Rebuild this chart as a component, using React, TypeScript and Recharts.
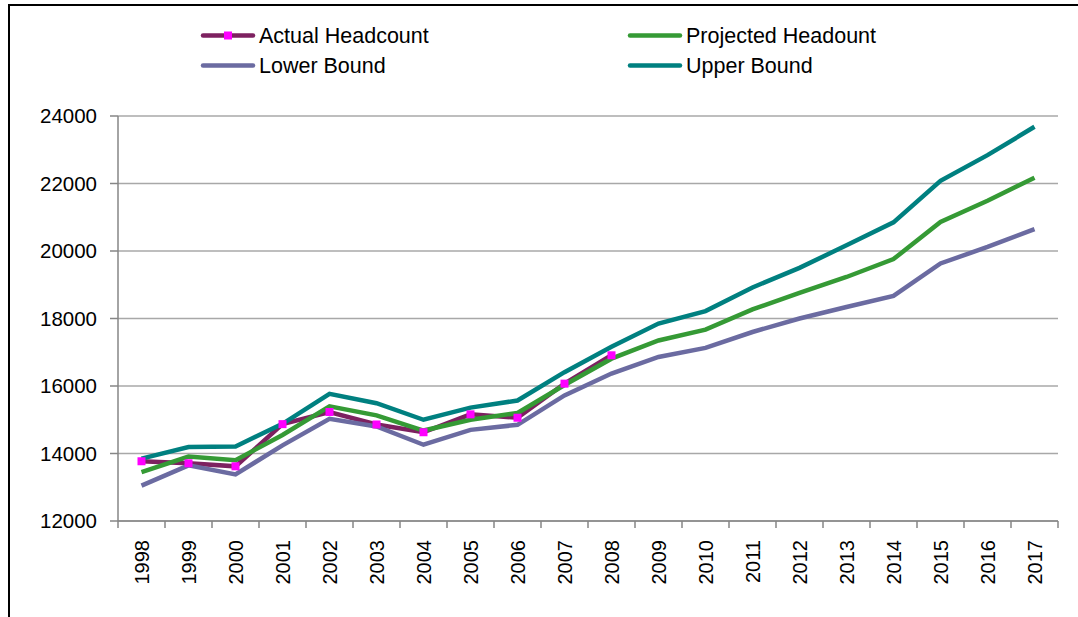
import { CartesianGrid, Line, LineChart, XAxis, YAxis } from "recharts";

const YEARS = [
  "1998", "1999", "2000", "2001", "2002", "2003", "2004", "2005", "2006", "2007",
  "2008", "2009", "2010", "2011", "2012", "2013", "2014", "2015", "2016", "2017",
];

const ACTUAL = [
  13770, 13710, 13620, 14870, 15230, 14860, 14630, 15160, 15060, 16070, 16910,
  null, null, null, null, null, null, null, null, null,
];

const PROJECTED = [
  13450, 13910, 13800, 14550, 15400, 15130, 14680, 15000, 15200, 16030,
  16810, 17350, 17670, 18270, 18760, 19230, 19760, 20860, 21490, 22170,
];

const LOWER = [
  13050, 13650, 13380, 14240, 15030, 14800, 14260, 14700, 14850, 15720,
  16370, 16860, 17130, 17600, 18000, 18340, 18670, 19630, 20120, 20650,
];

const UPPER = [
  13850, 14190, 14210, 14880, 15770, 15490, 15000, 15360, 15570, 16410,
  17160, 17850, 18220, 18920, 19500, 20170, 20850, 22080, 22840, 23680,
];

const Y_TICKS = [12000, 14000, 16000, 18000, 20000, 22000, 24000];

const data = YEARS.map((year, i) => ({
  year,
  actual: ACTUAL[i],
  projected: PROJECTED[i],
  lower: LOWER[i],
  upper: UPPER[i],
}));

const FONT = "'Liberation Sans', Arial, sans-serif";
const AXIS = "#868686";
const W = 1078;
const H = 617;
const PLOT_LEFT = 118;
const PLOT_RIGHT = 20;
const BAND = (W - PLOT_LEFT - PLOT_RIGHT) / YEARS.length;

const legend = [
  { name: "Actual Headcount", color: "#7d2160", marker: true, col: 0, row: 0 },
  { name: "Projected Headount", color: "#359a35", marker: false, col: 1, row: 0 },
  { name: "Lower Bound", color: "#6b6ba1", marker: false, col: 0, row: 1 },
  { name: "Upper Bound", color: "#008080", marker: false, col: 1, row: 1 },
];

function XTick(props: any) {
  const { x, y, payload, index } = props;
  const half = BAND / 2;
  return (
    <g>
      <line x1={x - half} x2={x - half} y1={y} y2={y + 7} stroke={AXIS} strokeWidth={1.5} />
      {index === YEARS.length - 1 && (
        <line x1={x + half} x2={x + half} y1={y} y2={y + 7} stroke={AXIS} strokeWidth={1.5} />
      )}
      <text
        transform={`translate(${x},${y + 19}) rotate(-90)`}
        textAnchor="end"
        dominantBaseline="central"
        fontSize={20}
        fontFamily={FONT}
        fill="#000"
      >
        {payload.value}
      </text>
    </g>
  );
}

function SquareDot(props: any) {
  const { cx, cy, index } = props;
  if (cx == null || cy == null) return <g key={`d${index}`} />;
  return <rect key={`d${index}`} x={cx - 4} y={cy - 4} width={8} height={8} fill="#ff00ff" />;
}

export default function App() {
  return (
    <div style={{ position: "relative", width: W, height: H, overflow: "hidden", background: "#fff" }}>
      <style>{"body{margin:0;overflow:hidden}"}</style>
      <div
        style={{
          position: "absolute",
          left: 8,
          top: 4,
          width: 1200,
          height: 800,
          borderTop: "2px solid #000",
          borderLeft: "2px solid #000",
        }}
      />
      <div style={{ position: "absolute", left: 0, top: 0 }}>
        <LineChart
          width={W}
          height={H}
          data={data}
          margin={{ top: 116, right: PLOT_RIGHT, bottom: 0, left: 0 }}
        >
          <CartesianGrid vertical={false} stroke="#a8a8a8" strokeWidth={1.5} />
          <XAxis
            dataKey="year"
            interval={0}
            height={96}
            padding={{ left: BAND / 2, right: BAND / 2 }}
            tickSize={0}
            tickMargin={0}
            tickLine={false}
            axisLine={{ stroke: AXIS, strokeWidth: 1.5 }}
            tick={<XTick />}
          />
          <YAxis
            width={PLOT_LEFT}
            domain={[12000, 24000]}
            ticks={Y_TICKS}
            interval={0}
            tickSize={8}
            tickMargin={13}
            axisLine={{ stroke: AXIS, strokeWidth: 1.5 }}
            tickLine={{ stroke: AXIS, strokeWidth: 1.5 }}
            tick={{ fontSize: 20.5, fill: "#000", fontFamily: FONT }}
          />
          <Line
            dataKey="actual"
            stroke="#7d2160"
            strokeWidth={4.5}
            dot={false}
            connectNulls={false}
            isAnimationActive={false}
          />
          <Line dataKey="projected" stroke="#359a35" strokeWidth={4.5} dot={false} isAnimationActive={false} />
          <Line dataKey="lower" stroke="#6b6ba1" strokeWidth={4.5} dot={false} isAnimationActive={false} />
          <Line dataKey="upper" stroke="#008080" strokeWidth={4.5} dot={false} isAnimationActive={false} />
          <Line
            dataKey="actual"
            stroke="none"
            dot={<SquareDot />}
            activeDot={false}
            legendType="none"
            isAnimationActive={false}
          />
        </LineChart>
      </div>
      <svg style={{ position: "absolute", left: 0, top: 0 }} width={W} height={100}>
        {legend.map((item) => {
          const x0 = item.col === 0 ? 203 : 630;
          const y0 = 35.5 + item.row * 30;
          return (
            <g key={item.name}>
              <line x1={x0} x2={x0 + 50} y1={y0} y2={y0} stroke={item.color} strokeWidth={4.5} strokeLinecap="round" />
              {item.marker && <rect x={x0 + 21} y={y0 - 4} width={8} height={8} fill="#ff00ff" />}
              <text
                x={x0 + 56}
                y={y0}
                dominantBaseline="central"
                fontSize={21.5}
                fontFamily={FONT}
                fill="#000"
              >
                {item.name}
              </text>
            </g>
          );
        })}
      </svg>
    </div>
  );
}
